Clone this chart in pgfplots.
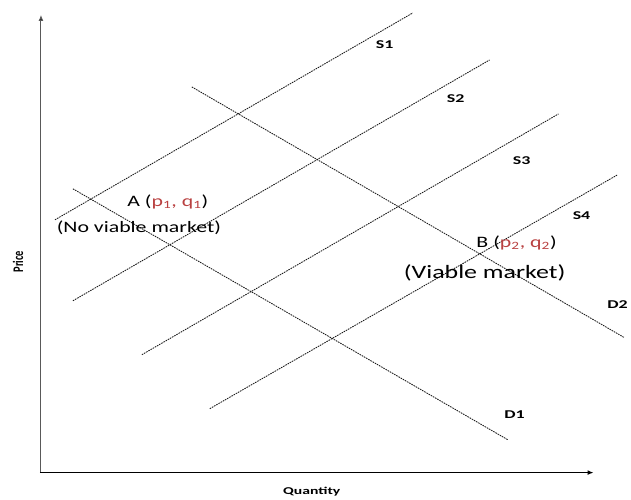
\documentclass[border=0pt]{standalone}
\usepackage{pgfplots}
\pgfplotsset{compat=1.18}
\usepackage{fontspec}
\setmainfont{Carlito}
\usetikzlibrary{arrows.meta}
\definecolor{pq}{RGB}{185,65,65}
\newcommand{\sx}[2][1.37]{\scalebox{#1}[1]{#2}}

\begin{document}
\begin{tikzpicture}[
  curve/.style={black!90, line width=0.85pt, dash pattern=on 1.6pt off 0.9pt},
  lbl/.style={font=\bfseries\fontsize{12}{12}\selectfont},
]
\begin{axis}[
  width=631bp, height=500bp, scale only axis,
  xmin=0, xmax=631, ymin=0, ymax=500, y dir=reverse,
  hide axis, clip=false,
]
\path (axis cs:0,0) rectangle (axis cs:631,500);

% axes
\addplot[black!65, line width=1pt, -{Latex[length=6pt,width=5pt,fill=black]}] coordinates {(41,473) (41,15)};
\addplot[black, line width=1.6pt, -{Latex[length=6pt,width=5pt]}] coordinates {(40,473) (594,473)};

% supply curves
\addplot[curve] coordinates {(55,220) (413,13)};
\addplot[curve] coordinates {(73,301) (490,60)};
\addplot[curve] coordinates {(142,355) (559,114)};
\addplot[curve] coordinates {(210,409) (618,175)};
% demand curves
\addplot[curve] coordinates {(73,189) (508,440)};
\addplot[curve] coordinates {(192,87) (625,338)};

\node[lbl] at (axis cs:385,45) {\sx[1.5]{S1}};
\node[lbl] at (axis cs:456,99) {\sx[1.5]{S2}};
\node[lbl] at (axis cs:522,161) {\sx[1.5]{S3}};
\node[lbl] at (axis cs:582,216) {\sx[1.5]{S4}};
\node[lbl] at (axis cs:515,415) {\sx[1.5]{D1}};
\node[lbl] at (axis cs:618,305) {\sx[1.5]{D2}};

\node[font=\fontsize{16}{16}\selectfont] at (axis cs:168,202)
  {\sx{A (\textcolor{pq}{p\textsubscript{1}, q\textsubscript{1}})}};
\node[font=\fontsize{16}{16}\selectfont] at (axis cs:139,228)
  {\sx{(No viable market)}};
\node[font=\fontsize{16}{16}\selectfont] at (axis cs:517,243)
  {\sx{B (\textcolor{pq}{p\textsubscript{2}, q\textsubscript{2}})}};
\node[font=\fontsize{19}{19}\selectfont] at (axis cs:485,273)
  {\sx{(Viable market)}};

\node[font=\bfseries\fontsize{10.5}{10.5}\selectfont, rotate=90] at (axis cs:18,262)
  {\scalebox{1}[1.4]{Price}};
\node[font=\bfseries\fontsize{10.5}{10.5}\selectfont] at (axis cs:312,492)
  {\sx[1.5]{Quantity}};
\end{axis}
\end{tikzpicture}
\end{document}
